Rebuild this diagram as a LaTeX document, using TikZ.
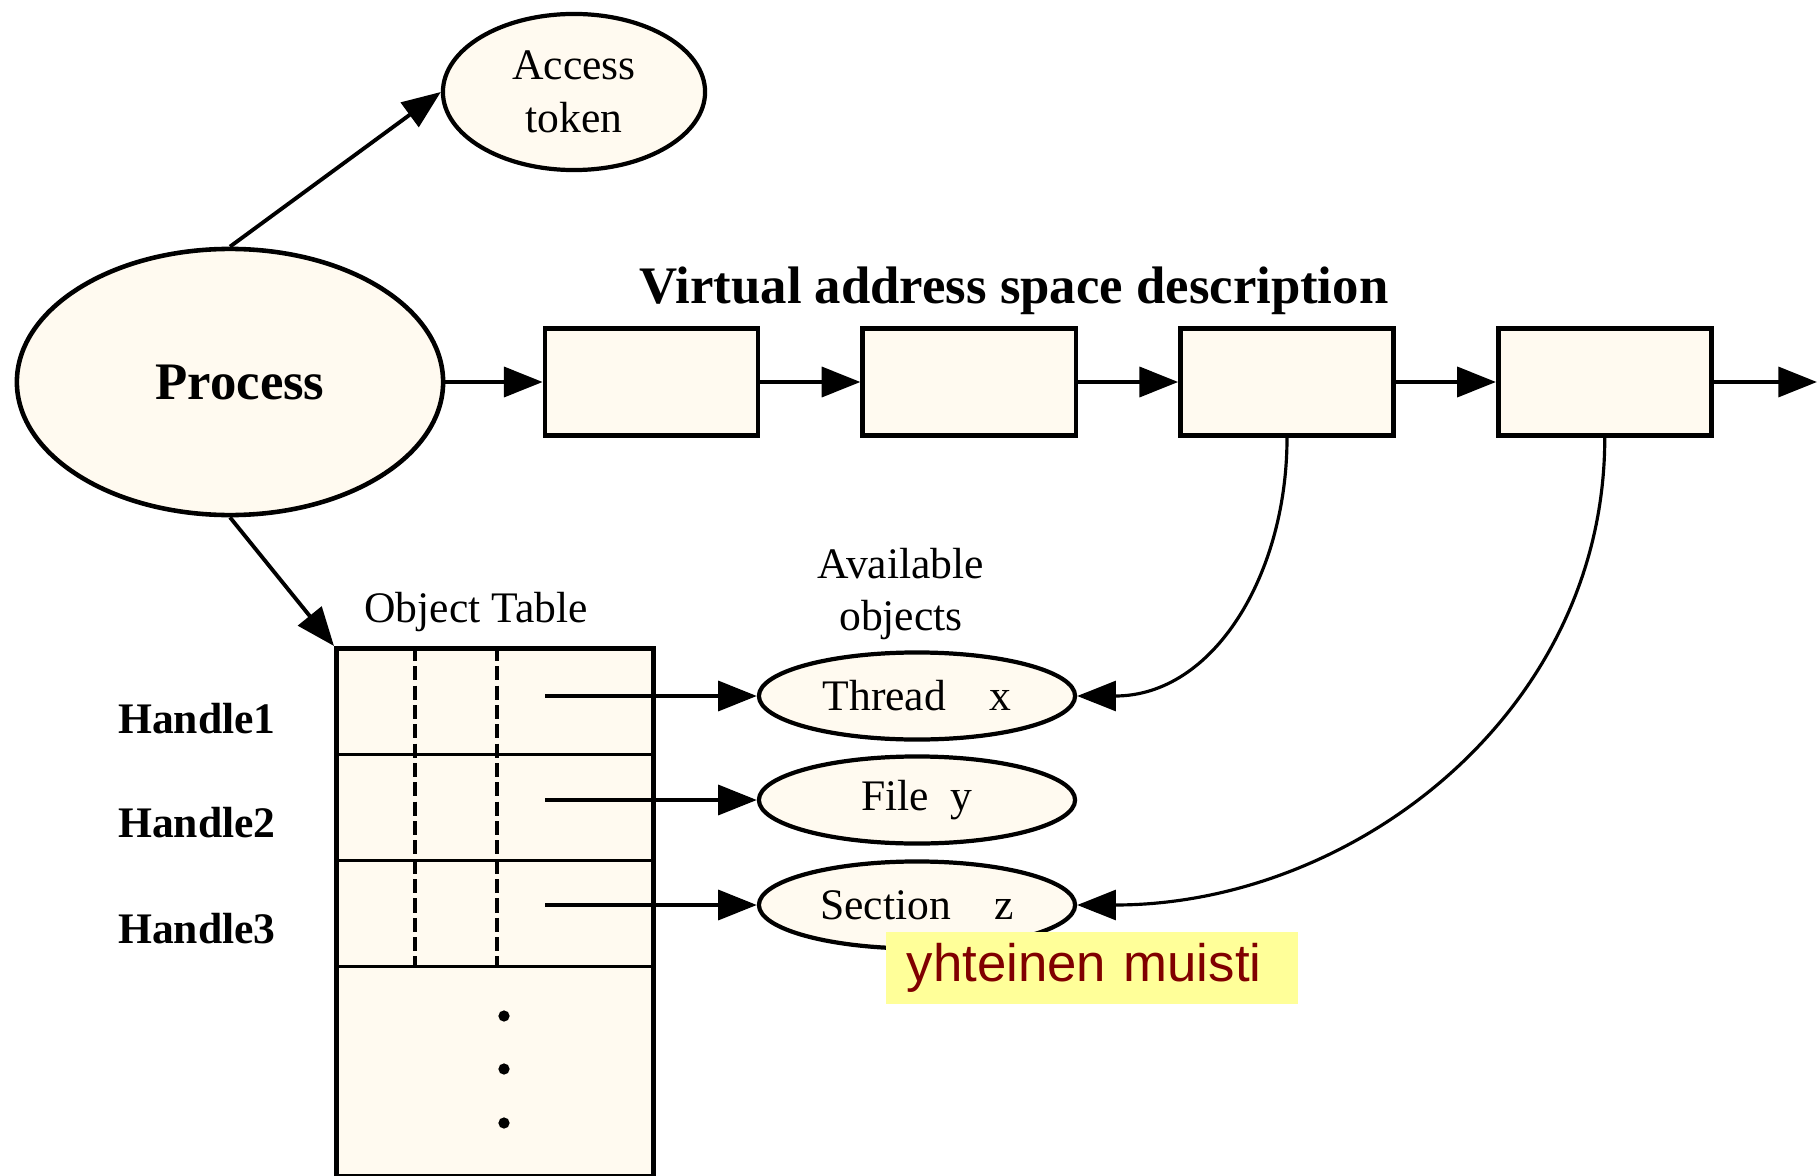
\documentclass[tikz,border=0pt]{standalone}
\usepackage{fontspec}
\setmainfont{Liberation Serif}
\newfontfamily\notefont{Liberation Sans}
\usetikzlibrary{shapes.geometric,positioning,arrows.meta}
\definecolor{cream}{RGB}{255,250,240}
\definecolor{notebg}{RGB}{255,255,153}
\definecolor{notefg}{RGB}{128,0,0}
\newcommand{\smallfnt}{\fontsize{12.4}{15}\selectfont}
\newcommand{\bigfnt}{\fontsize{15}{18}\selectfont\bfseries}

\begin{document}
\begin{tikzpicture}[%
	x=0.01cm, y=-0.01cm,
	node distance=1.0cm,
	obj/.style = {shape=ellipse, draw, line width=1.2pt, fill=cream, inner sep=0pt, font=\smallfnt, align=center},
	vbox/.style = {shape=rectangle, draw, line width=1.3pt, fill=cream, minimum width=2.13cm, minimum height=1.07cm},
	lbl/.style = {font=\smallfnt, align=center},
	arr/.style = {-{Triangle[length=11pt,width=8.5pt]}, line width=1.1pt},
	curve/.style = {-{Triangle[length=11pt,width=8.5pt]}, line width=0.9pt}
	]
  \useasboundingbox (0,0) rectangle (1818,1176);
  % process and its token
  \node [obj, minimum width=4.26cm, minimum height=2.66cm, line width=1.3pt, font=\bigfnt] (proc) at (230,382) {\hspace*{0.2cm}Process};
  \node [obj, minimum width=2.62cm, minimum height=1.56cm] (tok) at (574,92) {Access\\token};
  \draw [arr] (proc.north) -- (tok.west);

  % virtual address space
  \node [font=\bigfnt, anchor=base] (vtitle) at (1014,304) {Virtual address space description};
  \node [vbox] (v1) at (651.5,382) {};
  \node [vbox, right=of v1] (v2) {};
  \node [vbox, right=of v2] (v3) {};
  \node [vbox, right=of v3] (v4) {};
  \coordinate (vend) at (1817,382);
  \draw [arr] (proc.east) -- (v1.west);
  \draw [arr] (v1) -- (v2);
  \draw [arr] (v2) -- (v3);
  \draw [arr] (v3) -- (v4);
  \draw [arr] (v4.east) -- (vend);

  % object table
  \node [rectangle, draw, line width=1.4pt, fill=cream, anchor=north west, inner sep=0pt,
  	minimum width=3.17cm, minimum height=5.28cm] (otab) at (334,646) {};
  \foreach \y in {754,860,966}
  	\draw [line width=0.85pt] (334,\y) -- (651,\y);
  \foreach \x in {415,497}
  	\draw [line width=0.95pt, dash pattern=on 4pt off 1.5pt] (\x,647) -- (\x,966);
  \foreach \y in {1016,1069,1123}
  	\fill (504,\y) circle (1.6pt);
  \node [lbl, anchor=base] (otitle) at (476,622) {Object Table};
  \draw [arr] (proc.south) -- (otab.north west);

  \node [lbl, anchor=base, font=\smallfnt\bfseries] (h1) at (197,733) {Handle1};
  \node [lbl, anchor=base, font=\smallfnt\bfseries] (h2) at (197,837) {Handle2};
  \node [lbl, anchor=base, font=\smallfnt\bfseries] (h3) at (197,943) {Handle3};

  % available objects
  \node [lbl] (avail) at (901,594) {Available\\objects};
  \node [obj, minimum width=3.16cm, minimum height=0.87cm] (o1) at (917,696) {Thread\quad x};
  \node [obj, minimum width=3.16cm, minimum height=0.87cm] (o2) at (917,800) {File\enspace y};
  \node [obj, minimum width=3.16cm, minimum height=0.87cm] (o3) at (917,905) {Section\quad z};
  \coordinate (s1) at (545,696);
  \coordinate (s2) at (545,800);
  \coordinate (s3) at (545,905);
  \draw [arr] (s1) -- (o1.west);
  \draw [arr] (s2) -- (o2.west);
  \draw [arr] (s3) -- (o3.west);

  \draw [curve] (v3.south) to[out=-90, in=0, looseness=1.05] (o1.east);
  \draw [curve] (v4.south) to[out=-90, in=0, looseness=1] (o3.east);

  \node [anchor=west, fill=notebg, text=notefg, font=\notefont\fontsize{15}{18}\selectfont,
  	text width=3.7cm, inner xsep=0.21cm, minimum height=0.64cm, align=left] (note) at (885,968) {yhteinen muisti};
\end{tikzpicture}
\end{document}
